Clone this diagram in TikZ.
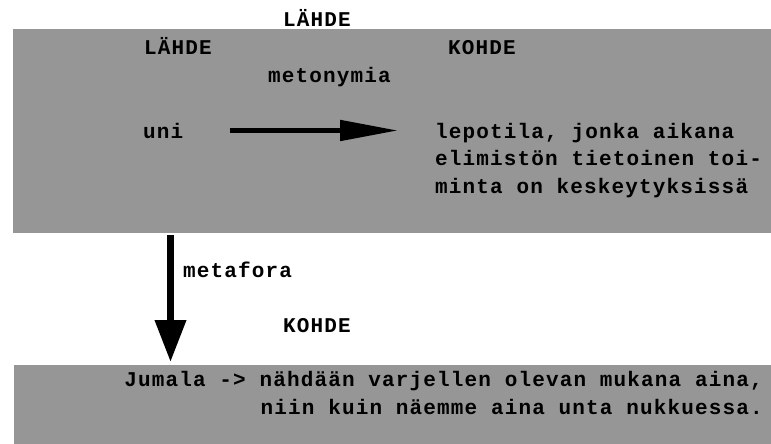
\documentclass[tikz,border=0pt]{standalone}
\usepackage{fontspec}
\newfontfamily\mono{Liberation Mono}[LetterSpace=5.5]
\usetikzlibrary{positioning,arrows.meta}
\definecolor{Panel}{HTML}{969696}

\begin{document}
\begin{tikzpicture}[x=1pt, y=-1pt, every node/.style={font=\mono\bfseries\fontsize{21}{27.5}\selectfont, inner sep=0pt}]
  \tikzstyle{panel}=[fill=Panel, anchor=north west, inner sep=0pt]
  \tikzstyle{label}=[anchor=base west]
  \tikzstyle{arrow}=[-{Triangle[length=58pt, width=20pt]}, line width=5pt]
  \tikzstyle{bigarrow}=[-{Triangle[length=42pt, width=30pt]}, line width=7pt]

  \useasboundingbox (0,0) rectangle (771,444);
  \node[panel, minimum width=758pt, minimum height=204pt] (upper) at (13,29) {};
  \node[panel, minimum width=757pt, minimum height=79pt] (lower) at (14,365) {};

  % multi-line nodes sit on the baseline of their last line
  \node[label] (src) at (283,27) {LÄHDE};
  \node[label] (lsrc) at (144,55) {LÄHDE};
  \node[label] (ltgt) at (448,55) {KOHDE};
  \node[label] (meto) at (268,82) {metonymia};
  \node[label] (uni) at (143,138) {uni};
  \node[anchor=base west, align=left] (sense) at (435,193) {lepotila, jonka aikana\\elimistön tietoinen toi-\\minta on keskeytyksissä};

  \node[label] (fig) at (183,277) {metafora};
  \node[label] (tgt) at (283,332) {KOHDE};
  \node[anchor=base east, align=right] (god) at (763,414) {Jumala -> nähdään varjellen olevan mukana aina,\\niin kuin näemme aina unta nukkuessa.};

  \draw[arrow, shorten <=46pt, shorten >=37pt] (uni.east) -- (uni.east -| sense.west);
  \coordinate (drop) at (170.5,235);
  \draw[bigarrow, shorten >=3pt] (drop) -- (drop |- lower.north);
\end{tikzpicture}
\end{document}
